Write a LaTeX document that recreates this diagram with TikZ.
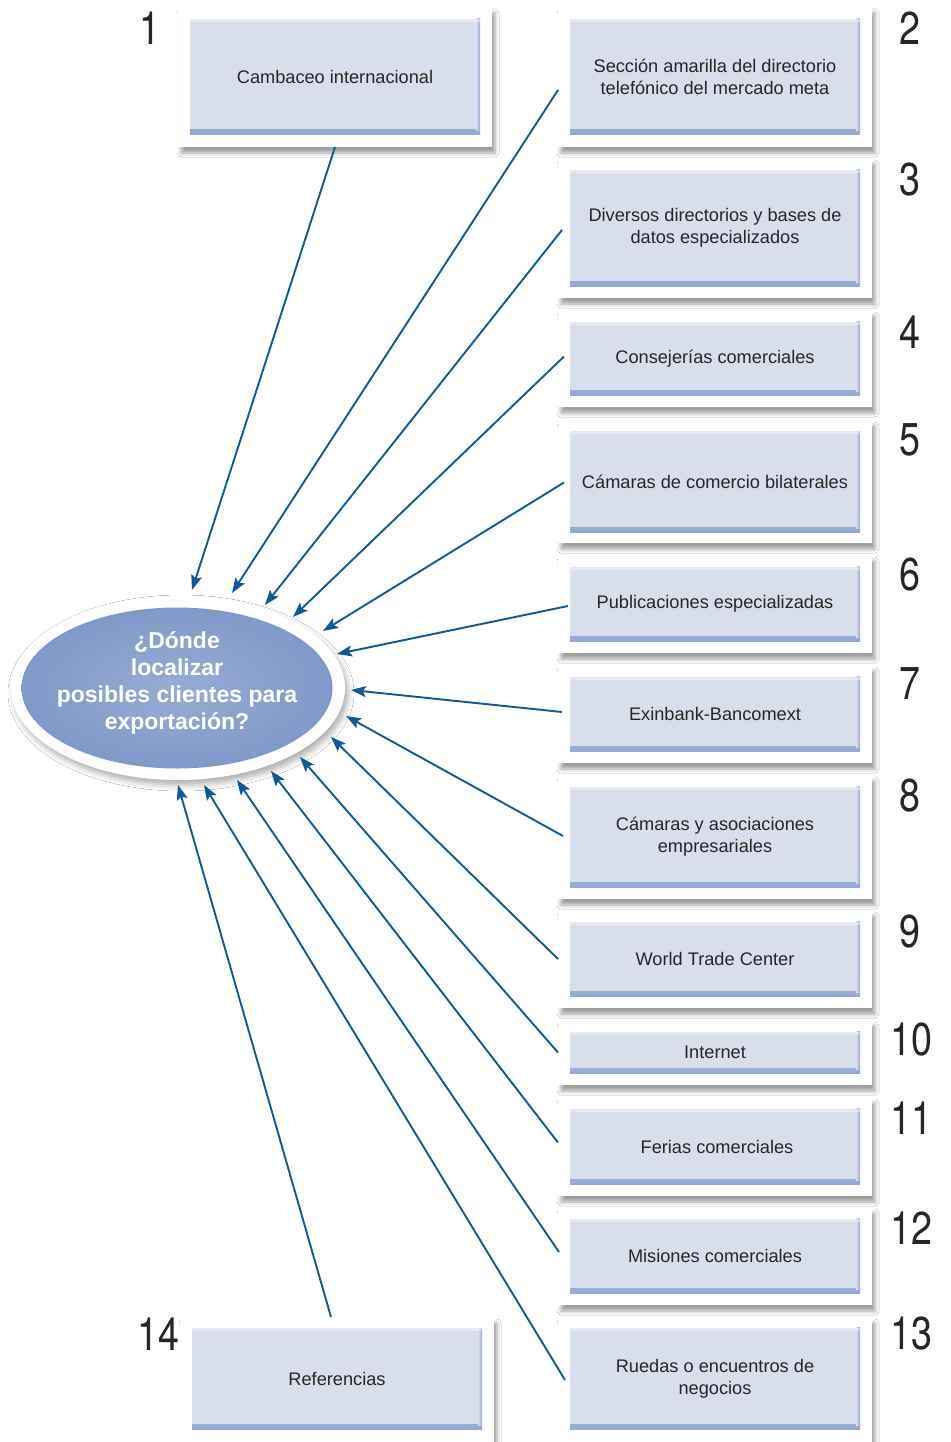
\documentclass[tikz,border=0pt]{standalone}
\usepackage{fontspec}
\setmainfont{Liberation Sans}
\newfontfamily\numfont{TeX Gyre Heros}
\usetikzlibrary{arrows.meta,shadows.blur,shapes.geometric,calc}

\definecolor{boxfill}{HTML}{D9DEEC}
\definecolor{boxedge}{HTML}{94A9D3}
\definecolor{boxtext}{HTML}{262626}
\definecolor{arrowblue}{HTML}{0D5A9B}
\definecolor{ovalfill}{HTML}{8EA5D0}
\definecolor{ovaledge}{HTML}{8199C9}

\tikzset{
  card/.style={rectangle, fill=white, inner sep=0pt, outer sep=0pt,
    minimum width=314pt,
    blur shadow={shadow xshift=3pt, shadow yshift=-6pt, shadow blur radius=4pt, shadow opacity=38}},
  panel/.style={rectangle, fill=boxfill, inner sep=0pt, outer sep=0pt,
    minimum width=290pt, text=boxtext, align=center,
    font=\fontsize{18.2}{22}\selectfont,
    path picture={
      \shade[top color=boxfill, bottom color=boxedge]
        ([yshift=5pt]path picture bounding box.south west) rectangle (path picture bounding box.south east);
      \shade[left color=boxfill, right color=boxedge]
        ([xshift=-4pt]path picture bounding box.north east) rectangle ([yshift=4pt]path picture bounding box.south east);
      \fill[white, opacity=0.35]
        (path picture bounding box.north west) rectangle ([yshift=-3pt]path picture bounding box.north east);
    }},
  num/.style={text=black!85, font=\numfont\fontsize{46}{46}\selectfont, inner sep=0pt, xscale=0.82, transform shape},
  arr/.style={draw=arrowblue, line width=1.9pt,
    -{Stealth[length=15pt, width=11pt, inset=3pt]}},
}

\begin{document}
\begin{tikzpicture}[x=1pt, y=-1pt]
\useasboundingbox[fill=white] (0,0) rectangle (950,1442);

% white cards with their shadows
\node[card, minimum height=140pt] (c1)  at (335,77)    {};
\node[card, minimum height=140pt] (c2)  at (715,77)    {};
\node[card, minimum height=140pt] (c3)  at (715,228)   {};
\node[card, minimum height=97pt]  (c4)  at (715,358.5) {};
\node[card, minimum height=123pt] (c5)  at (715,481.5) {};
\node[card, minimum height=98pt]  (c6)  at (715,604)   {};
\node[card, minimum height=98pt]  (c7)  at (715,714)   {};
\node[card, minimum height=124pt] (c8)  at (715,837)   {};
\node[card, minimum height=98pt]  (c9)  at (715,959)   {};
\node[card, minimum height=65pt]  (c10) at (715,1052.5){};
\node[card, minimum height=99pt]  (c11) at (715,1146.5){};
\node[card, minimum height=98pt]  (c12) at (715,1256)  {};
\node[card, minimum height=128pt] (c13) at (715,1381)  {};
\node[card, minimum height=128pt] (c14) at (337,1381)  {};

% coloured panels with the sources
\node[panel, minimum height=116pt] (b1)  at (c1)  {Cambaceo internacional};
\node[panel, minimum height=116pt] (b2)  at (c2)  {Sección amarilla del directorio\\telefónico del mercado meta};
\node[panel, minimum height=116pt] (b3)  at (c3)  {Diversos directorios y bases de\\datos especializados};
\node[panel, minimum height=74pt]  (b4)  at (c4)  {Consejerías comerciales};
\node[panel, minimum height=101pt] (b5)  at (c5)  {Cámaras de comercio bilaterales};
\node[panel, minimum height=75pt]  (b6)  at (c6)  {Publicaciones especializadas};
\node[panel, minimum height=75pt]  (b7)  at (c7)  {Exinbank-Bancomext};
\node[panel, minimum height=101pt] (b8)  at (c8)  {Cámaras y asociaciones\\empresariales};
\node[panel, minimum height=75pt]  (b9)  at (c9)  {World Trade Center};
\node[panel, minimum height=42pt]  (b10) at (c10) {Internet};
\node[panel, minimum height=76pt]  (b11) at (c11) {\hspace*{4pt}Ferias comerciales};
\node[panel, minimum height=75pt]  (b12) at (c12) {Misiones comerciales};
\node[panel, minimum height=102pt] (b13) at (715,1378.5) {Ruedas o encuentros de\\negocios};
\node[panel, minimum height=101pt] (b14) at (337,1378.5) {Referencias};

% numbers
\node[num] (n1)  at (150,28)   {1};
\node[num] (n2)  at (910,28)   {2};
\node[num] (n3)  at (910,180)  {3};
\node[num] (n4)  at (910,332)  {4};
\node[num] (n5)  at (910,440)  {5};
\node[num] (n6)  at (910,575)  {6};
\node[num] (n7)  at (910,684)  {7};
\node[num] (n8)  at (910,796)  {8};
\node[num] (n9)  at (910,932)  {9};
\node[num] (n10) at (911,1040) {10};
\node[num] (n11) at (911,1118) {11};
\node[num] (n12) at (911,1228) {12};
\node[num] (n13) at (911,1334) {13};
\node[num] (n14) at (158,1334) {14};

% central question: white rim, blue oval, text
\node[ellipse, fill=white, minimum width=334pt, minimum height=184pt, inner sep=0pt,
  blur shadow={shadow xshift=3pt, shadow yshift=-5pt, shadow blur radius=6pt, shadow opacity=32}]
  (halo) at (178,688) {};
\node[ellipse, inner color=ovalfill!92!white, outer color=ovaledge, minimum width=311pt,
  minimum height=161pt, inner sep=0pt] (q) at (177,688) {};
\node[text=white, align=center, inner sep=0pt,
  font=\bfseries\fontsize{23}{27}\selectfont] (qt) at (177,683)
  {¿Dónde\\localizar\\posibles clientes para\\exportación?};

% arrow end points around the question
\coordinate (e1)  at (192,590);
\coordinate (e2)  at (232,593);
\coordinate (e3)  at (265,605);
\coordinate (e4)  at (293,617);
\coordinate (e5)  at (323,631);
\coordinate (e6)  at (337,654);
\coordinate (e7)  at (351,690);
\coordinate (e8)  at (346,716);
\coordinate (e9)  at (331,737);
\coordinate (e10) at (300,757);
\coordinate (e11) at (271,771);
\coordinate (e12) at (237,780);
\coordinate (e13) at (204,785);
\coordinate (e14) at (178,785);

% connectors
\draw[arr] (c1.south) -- (e1);
\draw[arr] ($(c2.west)+(0,13)$) -- (e2);
\draw[arr] ($(c3.west)+(4,2)$) -- (e3);
\draw[arr] ($(c4.west)+(6,-2)$) -- (e4);
\draw[arr] ($(c5.west)+(6,1)$) -- (e5);
\draw[arr] ($(c6.west)+(10,2)$) -- (e6);
\draw[arr] ($(c7.west)+(4,-2)$) -- (e7);
\draw[arr] ($(c8.west)+(5,-1)$) -- (e8);
\draw[arr] (c9.west) -- (e9);
\draw[arr] (c10.west) -- (e10);
\draw[arr] ($(c11.west)+(0,-4)$) -- (e11);
\draw[arr] ($(c12.west)+(1,-4)$) -- (e12);
\draw[arr] ($(c13.west)+(7,-1)$) -- (e13);
\draw[arr] ($(c14.north)+(-6,0)$) -- (e14);
\end{tikzpicture}
\end{document}
